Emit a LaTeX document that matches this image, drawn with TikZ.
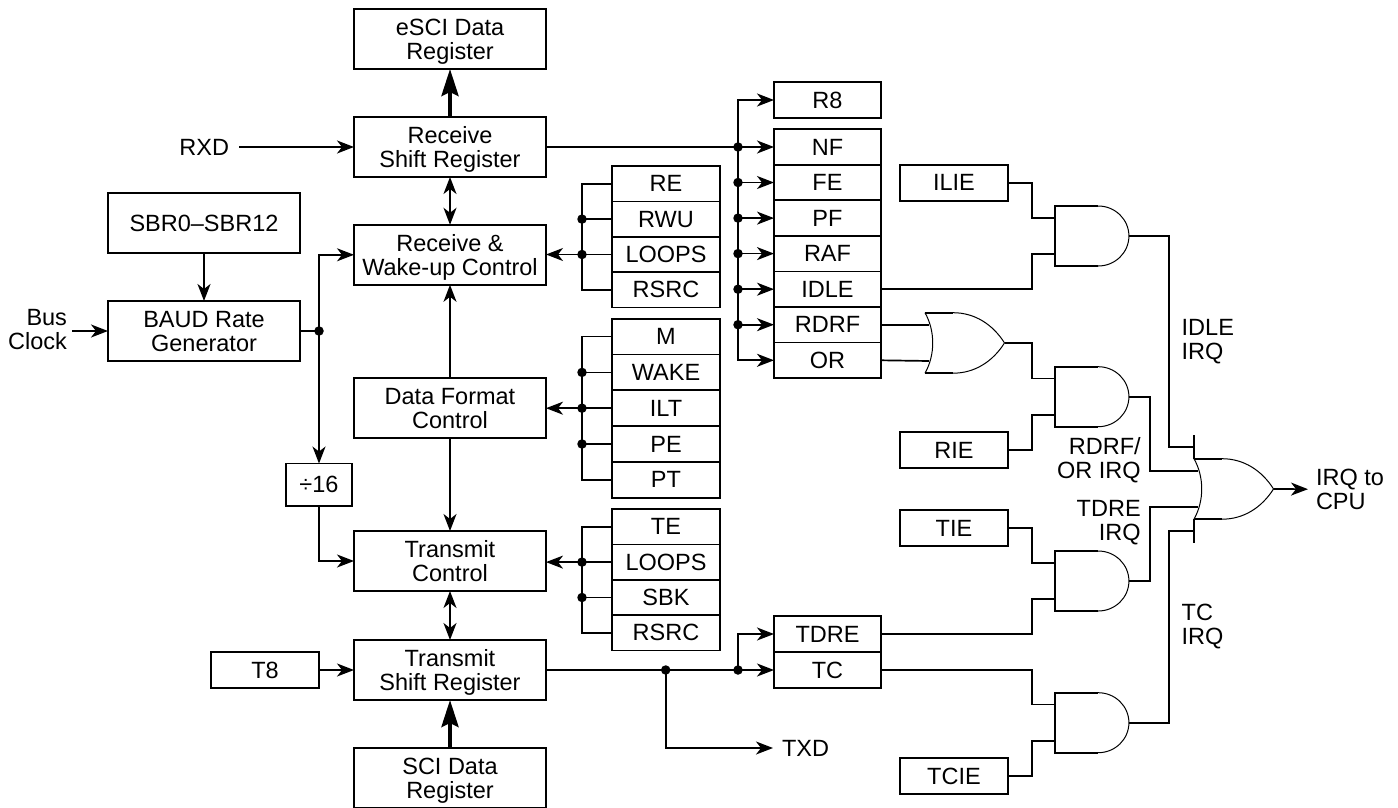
\documentclass[tikz,border=0pt]{standalone}
\usepackage{fontspec}
\setmainfont{Liberation Sans}
\usetikzlibrary{arrows.meta,calc}
\newcommand\nodepthline[1]{\setbox0\hbox{#1}\dp0=0pt \box0}
\tikzset{
  txt/.style={font=\fontsize{23.5}{24}\selectfont,inner sep=0pt,outer sep=0pt},
  box/.style={txt,draw=black,line width=1.7pt,align=center},
  bigbox/.style={box,minimum width=192pt,minimum height=60pt},
  rowbox/.style={box,minimum width=108pt},
  wire/.style={draw=black,line width=1.7pt},
  arr/.style={wire,-{Stealth[length=17pt,width=13pt,inset=5pt]}},
  darr/.style={wire,{Stealth[length=17pt,width=13pt,inset=5pt]}-{Stealth[length=17pt,width=13pt,inset=5pt]}},
  heavy/.style={draw=black,line width=4pt,-{Stealth[length=27pt,width=17pt,inset=4pt]}},
  jdot/.style={circle,fill=black,inner sep=0pt,minimum size=9.5pt}
}
\newcommand\andgate[3]{%
  \draw[line width=1.7pt] (#2+43.5,#3) -- (#2,#3) -- (#2,#3+60) -- (#2+43.5,#3+60);
  \draw[line width=1pt] (#2+43.5,#3) arc[start angle=90,end angle=-90,x radius=30.7pt,y radius=30pt];
  \coordinate (#1-a) at (#2,#3+11.7);
  \coordinate (#1-b) at (#2,#3+48);
  \coordinate (#1-o) at (#2+74.2,#3+30);
}
\newcommand\orgate[3]{%
  \draw[line width=1.7pt] (#2+28,#3) -- (#2,#3);
  \draw[line width=1.7pt] (#2+28,#3+60.5) -- (#2,#3+60.5);
  \draw[line width=1pt] (#2+28,#3) .. controls (#2+50,#3) and (#2+68,#3+12) .. (#2+79.5,#3+30.25)
     .. controls (#2+68,#3+48.5) and (#2+50,#3+60.5) .. (#2+28,#3+60.5);
  \draw[line width=1pt] (#2,#3+60.5) .. controls (#2+10.3,#3+42) and (#2+10.3,#3+18.5) .. (#2,#3);
  \coordinate (#1-a) at (#2+4,#3+12);
  \coordinate (#1-b) at (#2+4,#3+48.3);
  \coordinate (#1-o) at (#2+79.5,#3+30.25);
}
\begin{document}
\begin{tikzpicture}[x=1pt,y=-1pt]
\useasboundingbox (0,0) rectangle (1398,808);
% main column
\node[bigbox] (esci) at (450,39) {eSCI Data\\\nodepthline{Register}};
\node[bigbox] (rsr) at (450,147) {Receive\\\nodepthline{Shift Register}};
\node[bigbox] (rwc) at (450,254.8) {Receive \&\\\nodepthline{Wake-up Control}};
\node[bigbox] (dfc) at (450,408) {Data Format\\\nodepthline{Control}};
\node[bigbox] (tc) at (450,561) {Transmit\\\nodepthline{Control}};
\node[bigbox] (tsr) at (450,670) {Transmit\\\nodepthline{Shift Register}};
\node[bigbox] (sdr) at (450,778) {SCI Data\\\nodepthline{Register}};
% left
\node[bigbox] (sbr) at (204,223) {SBR0--SBR12};
\node[bigbox] (baud) at (204,331) {BAUD Rate\\\nodepthline{Generator}};
\node[box,minimum width=66pt,minimum height=42.5pt] (div) at (319,484.8) {÷16};
\node[rowbox,minimum height=36pt] (teight) at (265,670) {T8};
\node[txt,anchor=east,inner xsep=10pt] (rxd) at (239,147) {RXD};
\node[txt,anchor=east,align=right,inner xsep=5pt] (busclk) at (72,329.5) {Bus\\\nodepthline{Clock}};
% RE column
\begin{scope}[every node/.append style={rowbox,minimum height=35.4pt}]
\node (re) at (666,183.7) {RE};
\node (rwu) at (666,219.1) {RWU};
\node (loopsa) at (666,254.5) {LOOPS};
\node (rsrca) at (666,289.9) {RSRC};
\end{scope}
% M column
\begin{scope}[every node/.append style={rowbox,minimum height=35.8pt}]
\node (m) at (666,336.6) {M};
\node (wake) at (666,372.4) {WAKE};
\node (ilt) at (666,408.2) {ILT};
\node (pe) at (666,444) {PE};
\node (pt) at (666,479.8) {PT};
\end{scope}
% TE column
\begin{scope}[every node/.append style={rowbox,minimum height=35.4pt}]
\node (te) at (666,526.7) {TE};
\node (loopsb) at (666,562.1) {LOOPS};
\node (sbk) at (666,597.5) {SBK};
\node (rsrcb) at (666,632.9) {RSRC};
\end{scope}
% status column
\begin{scope}[every node/.append style={rowbox,minimum width=107pt,minimum height=35.55pt}]
\node (reight) at (827.5,100) {R8};
\node (nf) at (827.5,147) {NF};
\node (fe) at (827.5,182.5) {FE};
\node (pf) at (827.5,218.1) {PF};
\node (raf) at (827.5,253.6) {RAF};
\node (idle) at (827.5,289.2) {IDLE};
\node (rdrf) at (827.5,324.7) {RDRF};
\node (or) at (827.5,360.3) {OR};
\node (tdre) at (827.5,634) {TDRE};
\node (tcf) at (827.5,670) {TC};
\end{scope}
% enable boxes
\begin{scope}[every node/.append style={rowbox,minimum height=36pt}]
\node (ilie) at (954,182.7) {ILIE};
\node (rie) at (954,450) {RIE};
\node (tie) at (954,528) {TIE};
\node (tcie) at (954,776) {TCIE};
\end{scope}
\node[txt,anchor=west,inner xsep=9pt] (txd) at (773,748) {TXD};
% gates
\andgate{ga}{1054.7}{206}
\andgate{gb}{1054.7}{366.7}
\andgate{gc}{1054.7}{551}
\andgate{gd}{1054.7}{692.7}
\orgate{ge}{925}{312.7}
\orgate{gf}{1194}{458.7}
% helper columns
\coordinate (busl) at (582,0);
\coordinate (busr) at (738,0);
\coordinate (jog) at (1032,0);
\coordinate (outa) at (1168.7,0);
\coordinate (outb) at (1149.7,0);
% main arrows
\draw[heavy] (rsr.north) -- (esci.south);
\draw[heavy] (sdr.north) -- (tsr.south);
\draw[arr] (rxd.east) -- (rsr.west);
\draw[darr] (rsr.south) -- (rwc.north);
\draw[arr] (dfc.north) -- (rwc.south);
\draw[arr] (dfc.south) -- (tc.north);
\draw[darr] (tc.south) -- (tsr.north);
\draw[arr] (teight.east) -- (tsr.west);
% baud
\draw[arr] (sbr.south) -- (baud.north);
\draw[arr] (busclk.east |- baud.west) -- (baud.west);
\node[jdot] (jbaud) at (319,331) {};
\draw[wire] (baud.east) -- (jbaud.center);
\draw[arr] (jbaud.center) |- (rwc.west);
\draw[arr] (jbaud.center) -- (div.north);
\draw[arr] (div.south) |- (tc.west);
% RE bus
\draw[wire] (re.west) -| (busl |- rsrca.west) -- (rsrca.west);
\node[jdot] (jrwu) at (busl |- rwu.west) {};
\node[jdot] (jla) at (busl |- loopsa.west) {};
\draw[wire] (jrwu.center) -- (rwu.west);
\draw[wire] (jla.center) -- (loopsa.west);
\draw[arr] (jla.center) -- (rwc.east |- jla.center);
% M bus
\draw[wire] (m.west) -| (busl |- pt.west) -- (pt.west);
\node[jdot] (jwake) at (busl |- wake.west) {};
\node[jdot] (jilt) at (busl |- ilt.west) {};
\node[jdot] (jpe) at (busl |- pe.west) {};
\draw[wire] (jwake.center) -- (wake.west);
\draw[wire] (jilt.center) -- (ilt.west);
\draw[wire] (jpe.center) -- (pe.west);
\draw[arr] (jilt.center) -- (dfc.east |- jilt.center);
% TE bus
\draw[wire] (te.west) -| (busl |- rsrcb.west) -- (rsrcb.west);
\node[jdot] (jlb) at (busl |- loopsb.west) {};
\node[jdot] (jsbk) at (busl |- sbk.west) {};
\draw[wire] (jlb.center) -- (loopsb.west);
\draw[wire] (jsbk.center) -- (sbk.west);
\draw[arr] (jlb.center) -- (tc.east |- jlb.center);
% status bus
\node[jdot] (jnf) at (busr |- nf.west) {};
\node[jdot] (jfe) at (busr |- fe.west) {};
\node[jdot] (jpf) at (busr |- pf.west) {};
\node[jdot] (jraf) at (busr |- raf.west) {};
\node[jdot] (jidle) at (busr |- idle.west) {};
\node[jdot] (jrdrf) at (busr |- rdrf.west) {};
\draw[wire] (rsr.east) -- (jnf.center);
\draw[arr] (jnf.center) |- (reight.west);
\draw[arr] (jnf.center) |- (or.west);
\draw[arr] (jnf.center) -- (nf.west);
\draw[arr] (jfe.center) -- (fe.west);
\draw[arr] (jpf.center) -- (pf.west);
\draw[arr] (jraf.center) -- (raf.west);
\draw[arr] (jidle.center) -- (idle.west);
\draw[arr] (jrdrf.center) -- (rdrf.west);
% transmit output
\node[jdot] (jtxd) at (665.7,670) {};
\node[jdot] (jtc) at (738,670) {};
\draw[wire] (tsr.east) -- (jtc.center);
\draw[arr] (jtc.center) -- (tcf.west);
\draw[arr] (jtc.center) |- (tdre.west);
\draw[arr] (jtxd.center) |- (txd.west);
% gate inputs
\draw[wire] (ilie.east) -| (jog |- ga-a) -- (ga-a);
\draw[wire] (idle.east) -| (jog |- ga-b) -- (ga-b);
\draw[wire] (rdrf.east) -- (ge-a);
\draw[wire] (or.east) -- (ge-b);
\draw[wire] (ge-o) -| (jog |- gb-a) -- (gb-a);
\draw[wire] (rie.east) -| (jog |- gb-b) -- (gb-b);
\draw[wire] (tie.east) -| (jog |- gc-a) -- (gc-a);
\draw[wire] (tdre.east) -| (jog |- gc-b) -- (gc-b);
\draw[wire] (tcf.east) -| (jog |- gd-a) -- (gd-a);
\draw[wire] (tcie.east) -| (jog |- gd-b) -- (gd-b);
% gate outputs
\coordinate (bartopend) at (1194,435.3);
\coordinate (barbotend) at (1194,542.7);
\coordinate (inidle) at (1194,446.7);
\coordinate (intc) at (1194,531);
\draw[wire] (bartopend) -- (1194,458.7);
\draw[wire] (1194,519.2) -- (barbotend);
\draw[wire] (ga-o) -| (outa |- inidle) -- (inidle);
\draw[wire] (gd-o) -| (outa |- intc) -- (intc);
\draw[wire] (gb-o) -| (outb |- gf-a) -- (gf-a);
\draw[wire] (gc-o) -| (outb |- gf-b) -- (gf-b);
% labels
\node[txt,anchor=west,align=left] (lidle) at (1181.7,339.5) {IDLE\\\nodepthline{IRQ}};
\node[txt,anchor=west,align=left] (ltc) at (1181.7,624.2) {TC\\\nodepthline{IRQ}};
\node[txt,anchor=east,align=right] (lrdrf) at (1140.7,458.3) {RDRF/\\\nodepthline{OR IRQ}};
\node[txt,anchor=east,align=right] (ltdre) at (1140.7,520.3) {TDRE\\\nodepthline{IRQ}};
\node[txt,anchor=west,align=left,inner xsep=8pt] (irq) at (1308,489.2) {IRQ to\\\nodepthline{CPU}};
\draw[arr] (gf-o) -- (irq.west);
\end{tikzpicture}
\end{document}
